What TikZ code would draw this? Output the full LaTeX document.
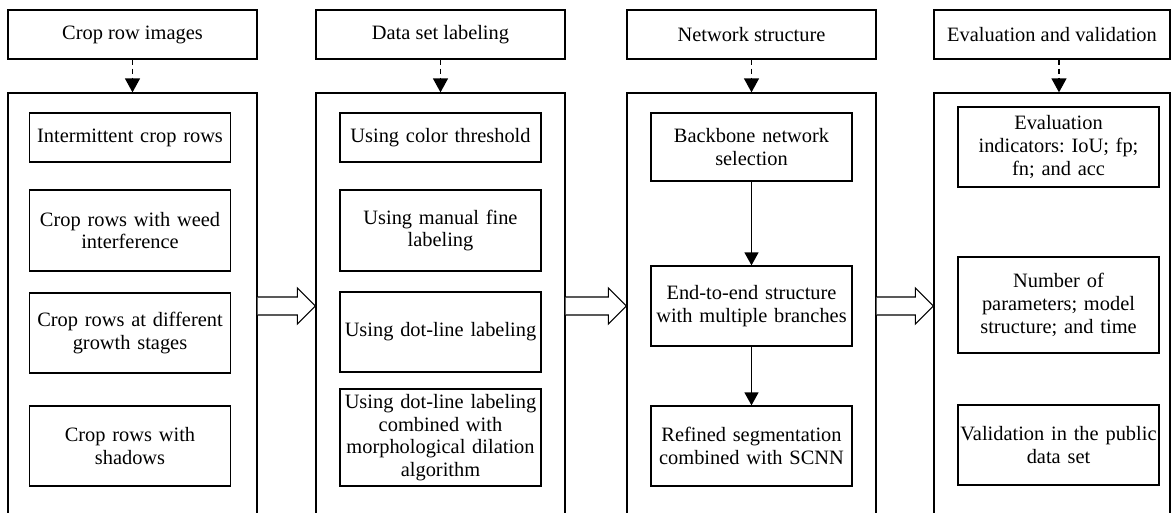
\documentclass[tikz,border=0pt]{standalone}
\usepackage{fontspec}
\setmainfont{Liberation Serif}
\usetikzlibrary{arrows.meta,calc}
\frenchspacing
\begin{document}
\begin{tikzpicture}[x=1pt,y=-1pt,
  font=\fontsize{20.4}{22.7}\selectfont,
  box/.style={draw, line width=1.3pt, inner sep=0pt, align=center},
  head/.style={box, minimum width=249pt, minimum height=49pt},
  outer/.style={box, minimum width=249pt, minimum height=426pt},
  inbox/.style={box, minimum width=201pt, text width=197pt},
  dasharrow/.style={line width=1.3pt, dash pattern=on 5pt off 4pt, -{Triangle[width=15pt,length=14pt]}},
  solidarrow/.style={line width=1.3pt, -{Triangle[width=14pt,length=13pt]}},
  hollow/.style={draw, line width=1.1pt, fill=white}]
\useasboundingbox (0,0) rectangle (1171,512);
\clip (0,0) rectangle (1171,512);
\fill[white] (0,0) rectangle (1171,512);

% column headers
\node[head] (t1) at (132.5,34.5) {Crop row images};
\node[head] (t2) at (440.5,34.5) {Data set labeling};
\node[head] (t3) at (751.5,34.5) {Network structure};
\node[head, minimum width=236pt] (t4) at (1052,34.5) {Evaluation and validation};

% outer boxes
\node[outer] (b1) at (132.5,306) {};
\node[outer] (b2) at (440.5,306) {};
\node[outer] (b3) at (751.5,306) {};
\node[outer, minimum width=236pt] (b4) at (1052,306) {};

% column 1
\node[inbox, minimum height=49pt] (c11) at (130,137.5) {Intermittent crop rows};
\node[inbox, minimum height=81pt] (c12) at (130,230.5) {Crop rows with weed\\interference};
\node[inbox, minimum height=80pt] (c13) at (130,333) {Crop rows at different\\growth stages};
\node[inbox, minimum height=80pt] (c14) at (130,446) {Crop rows with\\shadows};

% column 2
\node[inbox, minimum height=49pt] (c21) at (440.5,137.5) {Using color threshold};
\node[inbox, minimum height=81pt] (c22) at (440.5,230.5) {Using manual fine\\labeling};
\node[inbox, minimum height=80pt] (c23) at (440.5,332) {Using dot-line labeling};
\node[inbox, minimum height=97pt] (c24) at (440.5,437.5) {Using dot-line labeling\\combined with\\morphological dilation\\algorithm};

% column 3
\node[inbox, minimum height=68pt] (c31) at (751.5,147) {Backbone network\\selection};
\node[inbox, minimum height=80pt] (c32) at (751.5,306) {End-to-end structure\\with multiple branches};
\node[inbox, minimum height=80pt] (c33) at (751.5,446) {Refined segmentation\\combined with SCNN};

% column 4
\node[inbox, minimum height=80pt] (c41) at (1058.5,147) {Evaluation\\indicators: IoU; fp;\\fn; and acc};
\node[inbox, minimum height=96pt] (c42) at (1058.5,305) {Number of\\parameters; model\\structure; and time};
\node[inbox, minimum height=80pt] (c43) at (1058.5,445) {Validation in the public\\data set};

% dashed arrows
\draw[dasharrow] (t1.south) -- (b1.north);
\draw[dasharrow] (t2.south) -- (b2.north);
\draw[dasharrow] (t3.south) -- (b3.north);
\draw[dasharrow] ($(t4.south)+(7,0)$) -- ($(b4.north)+(7,0)$);

% solid arrows in column 3
\draw[solidarrow] (c31.south) -- (c32.north);
\draw[solidarrow] (c32.south) -- (c33.north);

% hollow arrows between columns
\foreach \a/\b in {b1/b2, b2/b3, b3/b4}{
  \path[hollow] ($(\a.east)+(0,-9)$) -- ($(\b.west)+(-18,-9)$) -- ($(\b.west)+(-18,-18)$)
    -- (\b.west) -- ($(\b.west)+(-18,18)$) -- ($(\b.west)+(-18,9)$) -- ($(\a.east)+(0,9)$);
}
\end{tikzpicture}
\end{document}
